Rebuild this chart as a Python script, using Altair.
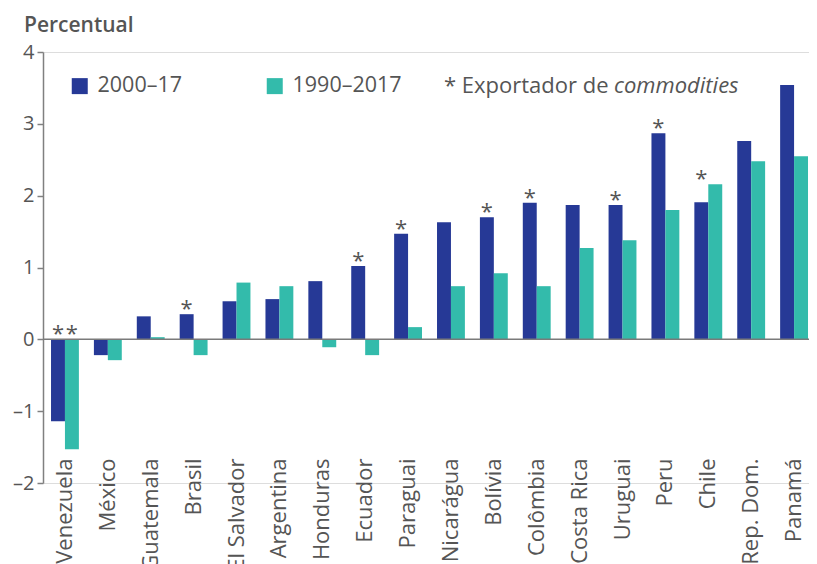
import altair as alt
import pandas as pd

countries = ["Venezuela", "México", "Guatemala", "Brasil", "El Salvador", "Argentina",
             "Honduras", "Ecuador", "Paraguai", "Nicarágua", "Bolívia", "Colômbia",
             "Costa Rica", "Uruguai", "Peru", "Chile", "Rep. Dom.", "Panamá"]
v_2000_17 = [-1.14, -0.22, 0.32, 0.35, 0.53, 0.56, 0.81, 1.02, 1.47, 1.63, 1.70, 1.90,
             1.87, 1.87, 2.87, 1.91, 2.76, 3.54]
v_1990_2017 = [-1.53, -0.29, 0.03, -0.22, 0.79, 0.74, -0.11, -0.22, 0.17, 0.74, 0.92, 0.74,
               1.27, 1.38, 1.80, 2.16, 2.48, 2.55]
exporters = ["Venezuela", "Brasil", "Ecuador", "Paraguai", "Bolívia", "Colômbia",
             "Uruguai", "Peru", "Chile"]
series_names = ["2000–17", "1990–2017"]
series_colors = ["#263996", "#33BBAB"]
y_ticks = [-2, -1, 0, 1, 2, 3, 4]

FONT = "Open Sans"
TXT = "#555555"
AX = "#808080"

rows = []
for c, a, b in zip(countries, v_2000_17, v_1990_2017):
    rows.append({"pais": c, "serie": series_names[0], "valor": a})
    rows.append({"pais": c, "serie": series_names[1], "valor": b})
df = pd.DataFrame(rows)

star_rows = []
for c, a, b in zip(countries, v_2000_17, v_1990_2017):
    if c not in exporters:
        continue
    if a < 0 and b < 0:
        star_rows.append({"pais": c, "serie": series_names[0], "top": 0.0})
        star_rows.append({"pais": c, "serie": series_names[1], "top": 0.0})
    else:
        star_rows.append({"pais": c, "serie": series_names[0], "top": max(a, b, 0.0)})
stars = pd.DataFrame(star_rows)

x_scale = alt.Scale(paddingInner=0.35, paddingOuter=0.105, align=0.89, round=False)
x_axis = alt.Axis(title=None, labelAngle=-90, domain=False, ticks=False,
                  labelPadding=-25, labelFontSize=22, labelColor=TXT,
                  labelFont=FONT, labelOffset=0)
off_scale = alt.Scale(paddingInner=0, paddingOuter=0, round=False)
y_scale = alt.Scale(domain=[-2, 4], nice=False, zero=False)

bars = alt.Chart(df).mark_bar().encode(
    x=alt.X("pais:N", sort=countries, scale=x_scale, axis=x_axis),
    xOffset=alt.XOffset("serie:N", sort=series_names, scale=off_scale),
    y=alt.Y("valor:Q", scale=y_scale,
            axis=alt.Axis(title=None, values=y_ticks, grid=False,
                          labelExpr="datum.value < 0 ? '\u2013' + abs(datum.value) : '' + datum.value",
                          domainColor=AX, domainWidth=1.5, tickColor=AX, tickWidth=1.5,
                          tickSize=6, labelFontSize=20, labelColor=TXT, labelFont=FONT,
                          labelPadding=3)),
    color=alt.Color("serie:N", sort=series_names,
                    scale=alt.Scale(domain=series_names, range=series_colors),
                    legend=alt.Legend(title=None, orient="none", legendX=26, legendY=23,
                                      direction="horizontal", symbolType="square",
                                      symbolSize=256, symbolStrokeWidth=0,
                                      symbolOpacity=1, labelFontSize=21.5,
                                      labelColor=TXT, labelFont=FONT, labelOffset=7,
                                      columnPadding=81, padding=0)),
)

zero = alt.Chart(pd.DataFrame({"z": [0]})).mark_rule(color="#7a7a7a", strokeWidth=1.5).encode(
    y=alt.Y("z:Q", scale=y_scale)
)

star_marks = alt.Chart(stars).mark_text(
    text="*", font=FONT, fontSize=22, color=TXT, baseline="alphabetic", dy=2
).encode(
    x=alt.X("pais:N", sort=countries, scale=x_scale, axis=x_axis),
    xOffset=alt.XOffset("serie:N", sort=series_names, scale=off_scale),
    y=alt.Y("top:Q", scale=y_scale),
)

title_txt = alt.Chart(pd.DataFrame({"t": ["Percentual"]})).mark_text(
    font=FONT, fontSize=21, fontWeight=600, color=TXT, align="left", baseline="alphabetic"
).encode(x=alt.value(-19), y=alt.value(-20), text="t:N")

note1 = alt.Chart(pd.DataFrame({"t": ["* Exportador de"]})).mark_text(
    font=FONT, fontSize=22, color=TXT, align="left", baseline="alphabetic"
).encode(x=alt.value(401), y=alt.value(41), text="t:N")

note2 = alt.Chart(pd.DataFrame({"t": ["commodities"]})).mark_text(
    font=FONT, fontSize=22, fontStyle="italic", color=TXT, align="left", baseline="alphabetic"
).encode(x=alt.value(571), y=alt.value(41), text="t:N")

chart = alt.layer(bars, zero, star_marks, title_txt, note1, note2).properties(
    width=766, height=431,
    autosize=alt.AutoSizeParams(type="none"),
    padding={"left": 35, "top": 44, "right": 0, "bottom": 81},
).configure_view(stroke=None).configure(font=FONT)

chart.save("out.html", embed_options={"renderer": "svg", "actions": False})
